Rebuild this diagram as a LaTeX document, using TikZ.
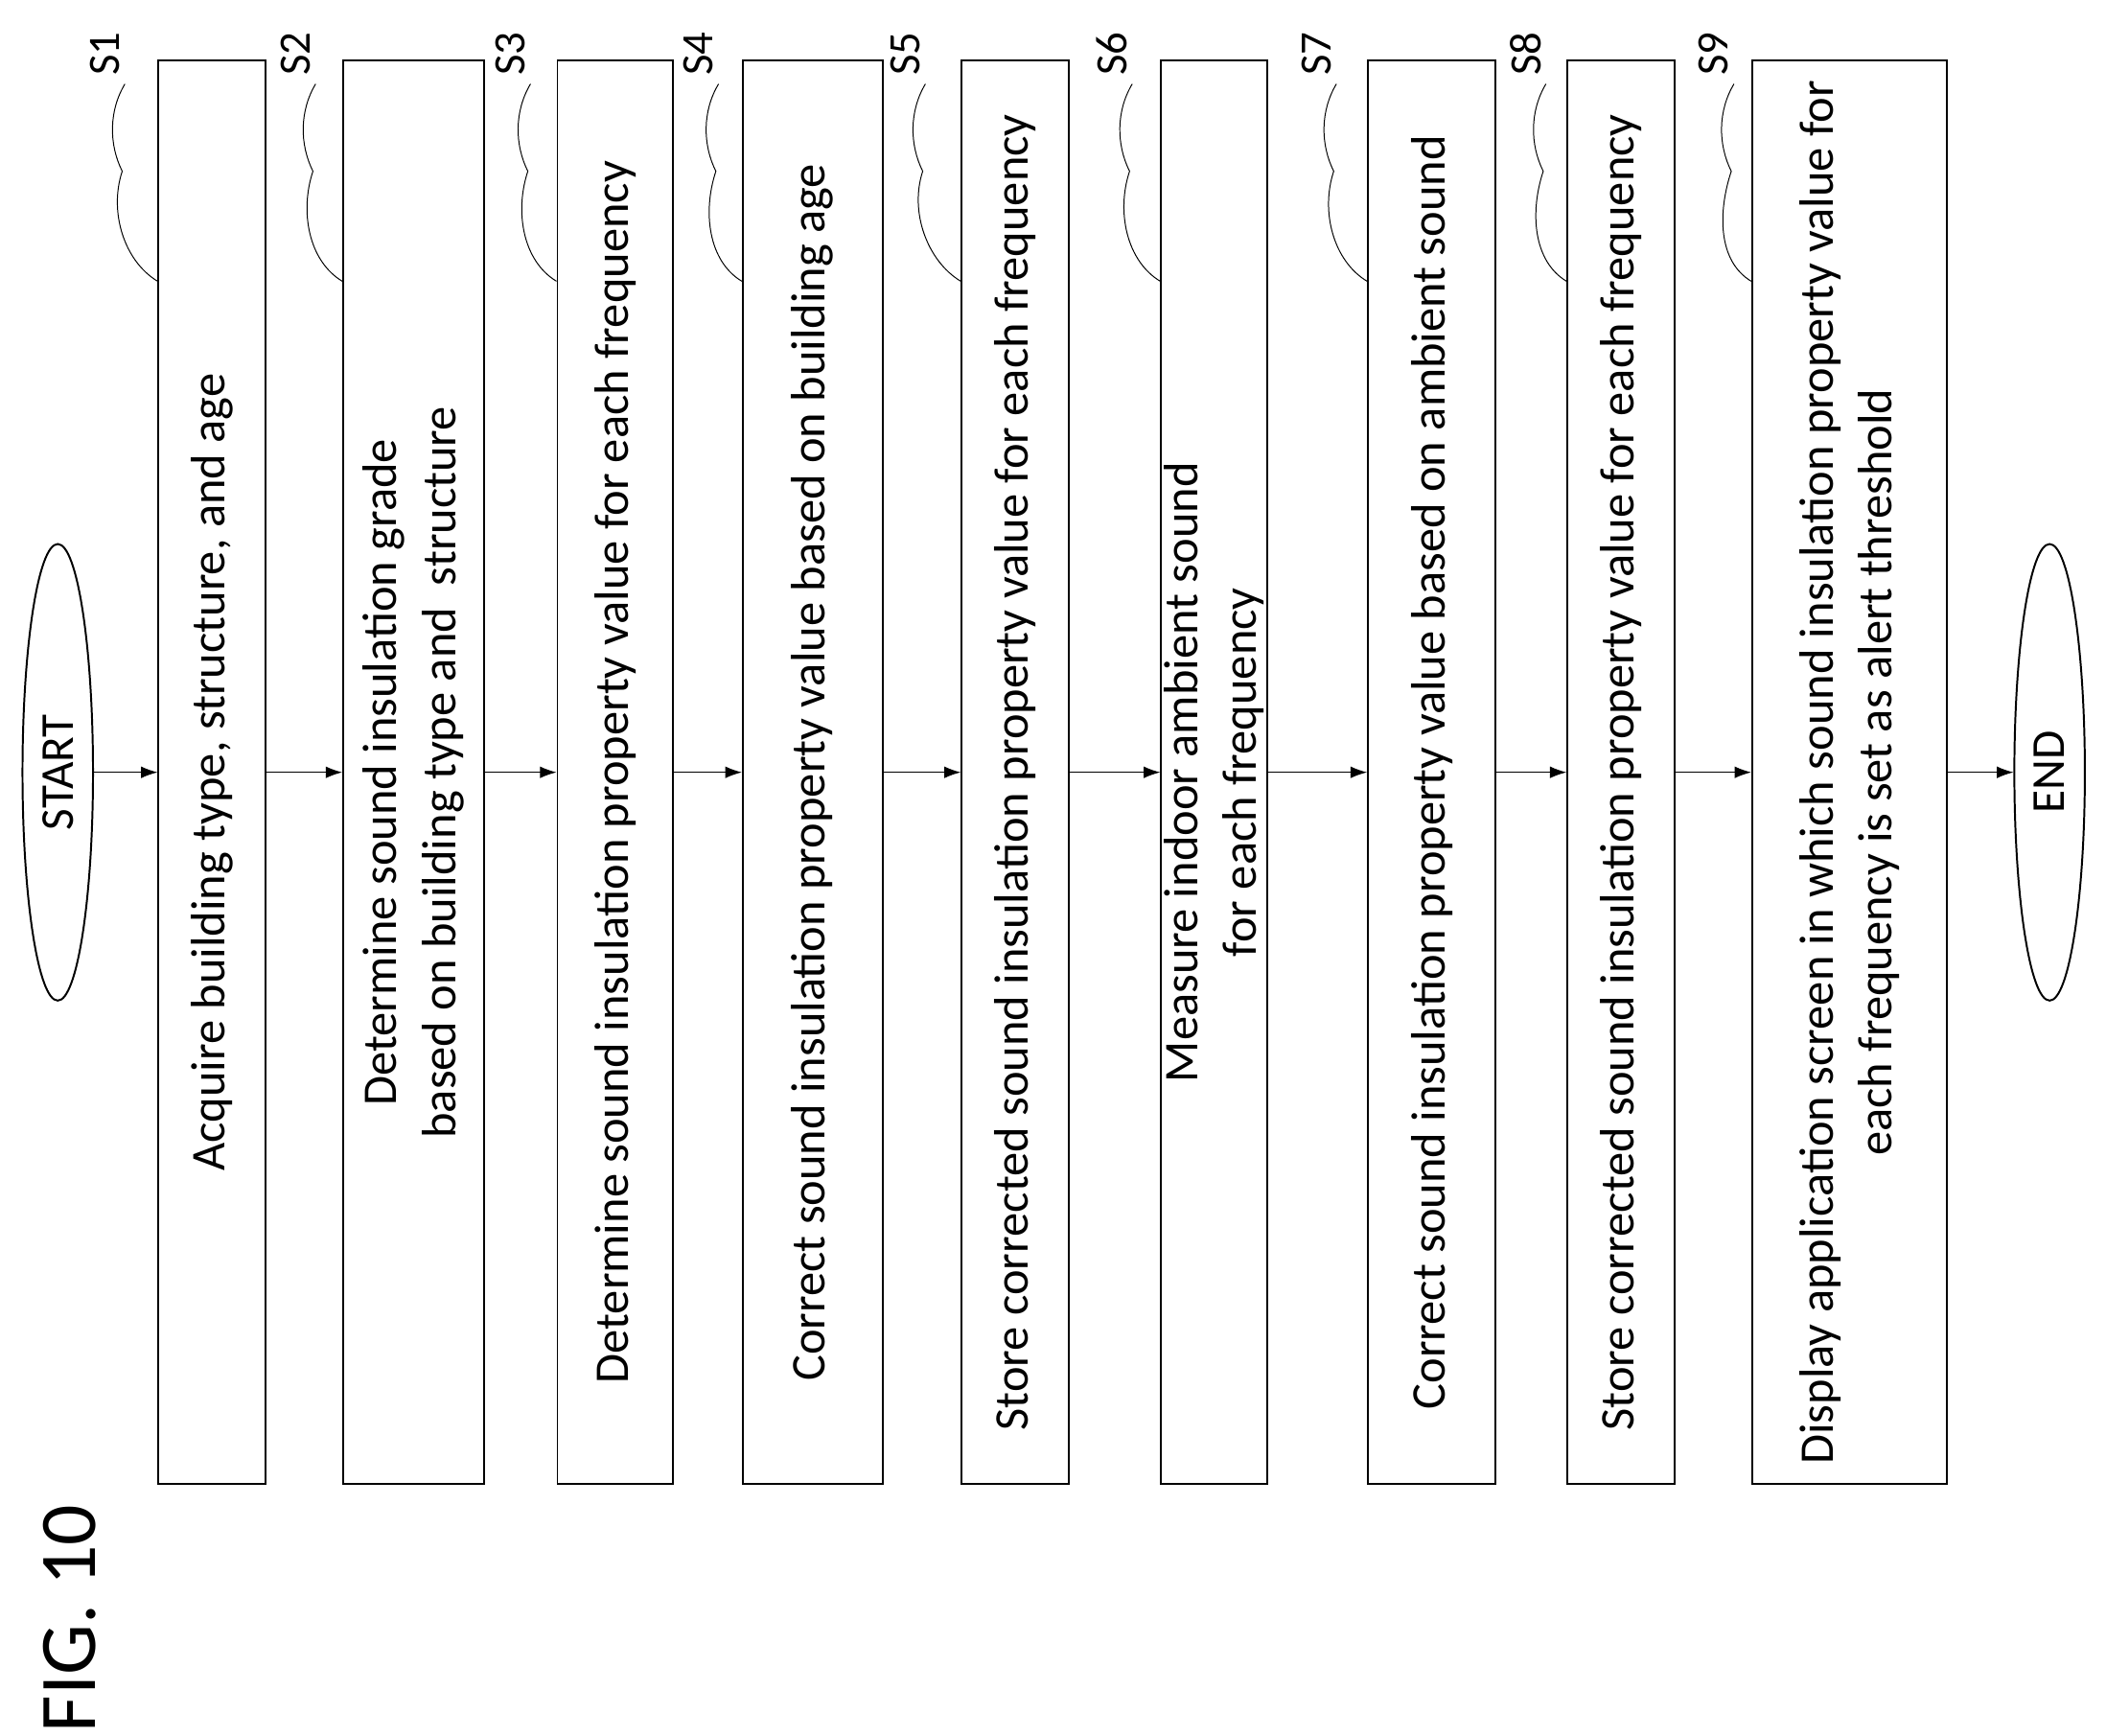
\documentclass[tikz,border=0pt]{standalone}
\usepackage{fontspec}
\setmainfont{Carlito}
\usetikzlibrary{arrows.meta,shapes.geometric}
\tikzset{
  stepbox/.style={draw,thick,rotate=90,minimum width=21.2cm,align=center,
    font=\fontsize{20.5}{25}\selectfont,inner sep=0pt},
  term/.style={draw,thick,ellipse,rotate=90,minimum width=6.8cm,minimum height=1.05cm,
    font=\fontsize{20}{24}\selectfont},
  steplabel/.style={rotate=90,font=\fontsize{19}{22}\selectfont},
  flow/.style={-{Latex[length=7pt,width=5pt]}},
}
\begin{document}
\begin{tikzpicture}[x=0.02cm,y=-0.02cm]
\useasboundingbox (0,0) rectangle (1568,1292);
% title
\node[rotate=90,font=\fontsize{34}{40}\selectfont] (fig) at (52,1205) {FIG. 10};
% terminals
\node[term] (start) at (43,575) {START};
\node[term] (end) at (1526,575) {END};
% steps
\node[stepbox,minimum height=1.6cm] (s1) at (158,575) {Acquire building type, structure, and age};
\node[stepbox,minimum height=2.1cm] (s2) at (308,575) {Determine sound insulation grade\\based on building type and\ \ structure};
\node[stepbox,minimum height=1.72cm] (s3) at (458,575) {Determine sound insulation property value for each frequency};
\node[stepbox,minimum height=2.08cm] (s4) at (605,575) {Correct sound insulation property value based on building age};
\node[stepbox,minimum height=1.6cm] (s5) at (756,575) {Store corrected sound insulation property value for each frequency};
\node[stepbox,minimum height=1.58cm] (s6) at (904,575) {Measure indoor ambient sound\\for each frequency};
\node[stepbox,minimum height=1.9cm] (s7) at (1066,575) {Correct sound insulation property value based on ambient sound};
\node[stepbox,minimum height=1.6cm] (s8) at (1207,575) {Store corrected sound insulation property value for each frequency};
\node[stepbox,minimum height=2.9cm] (s9) at (1377,575) {Display application screen in which sound insulation property value for\\each frequency is set as alert threshold};
% arrows
\draw[flow] (start) -- (s1);
\foreach \a/\b in {s1/s2,s2/s3,s3/s4,s4/s5,s5/s6,s6/s7,s7/s8,s8/s9,s9/end}
  \draw[flow] (\a) -- (\b);
% step labels
\foreach \s/\lx in {1/78,2/220,3/380,4/520,5/674,6/828,7/980,8/1136,9/1276} {
  \node[steplabel] (l\s) at (\lx,40) {S\s};
  \draw ([xshift=0.3cm,yshift=-0.45cm]l\s.center) .. controls +(-12,20) and +(-10,-20) .. +(-2,65)
    .. controls +(-10,30) and +(-25,-15) .. ([yshift=-3.3cm]s\s.north east);
}
\end{tikzpicture}
\end{document}
